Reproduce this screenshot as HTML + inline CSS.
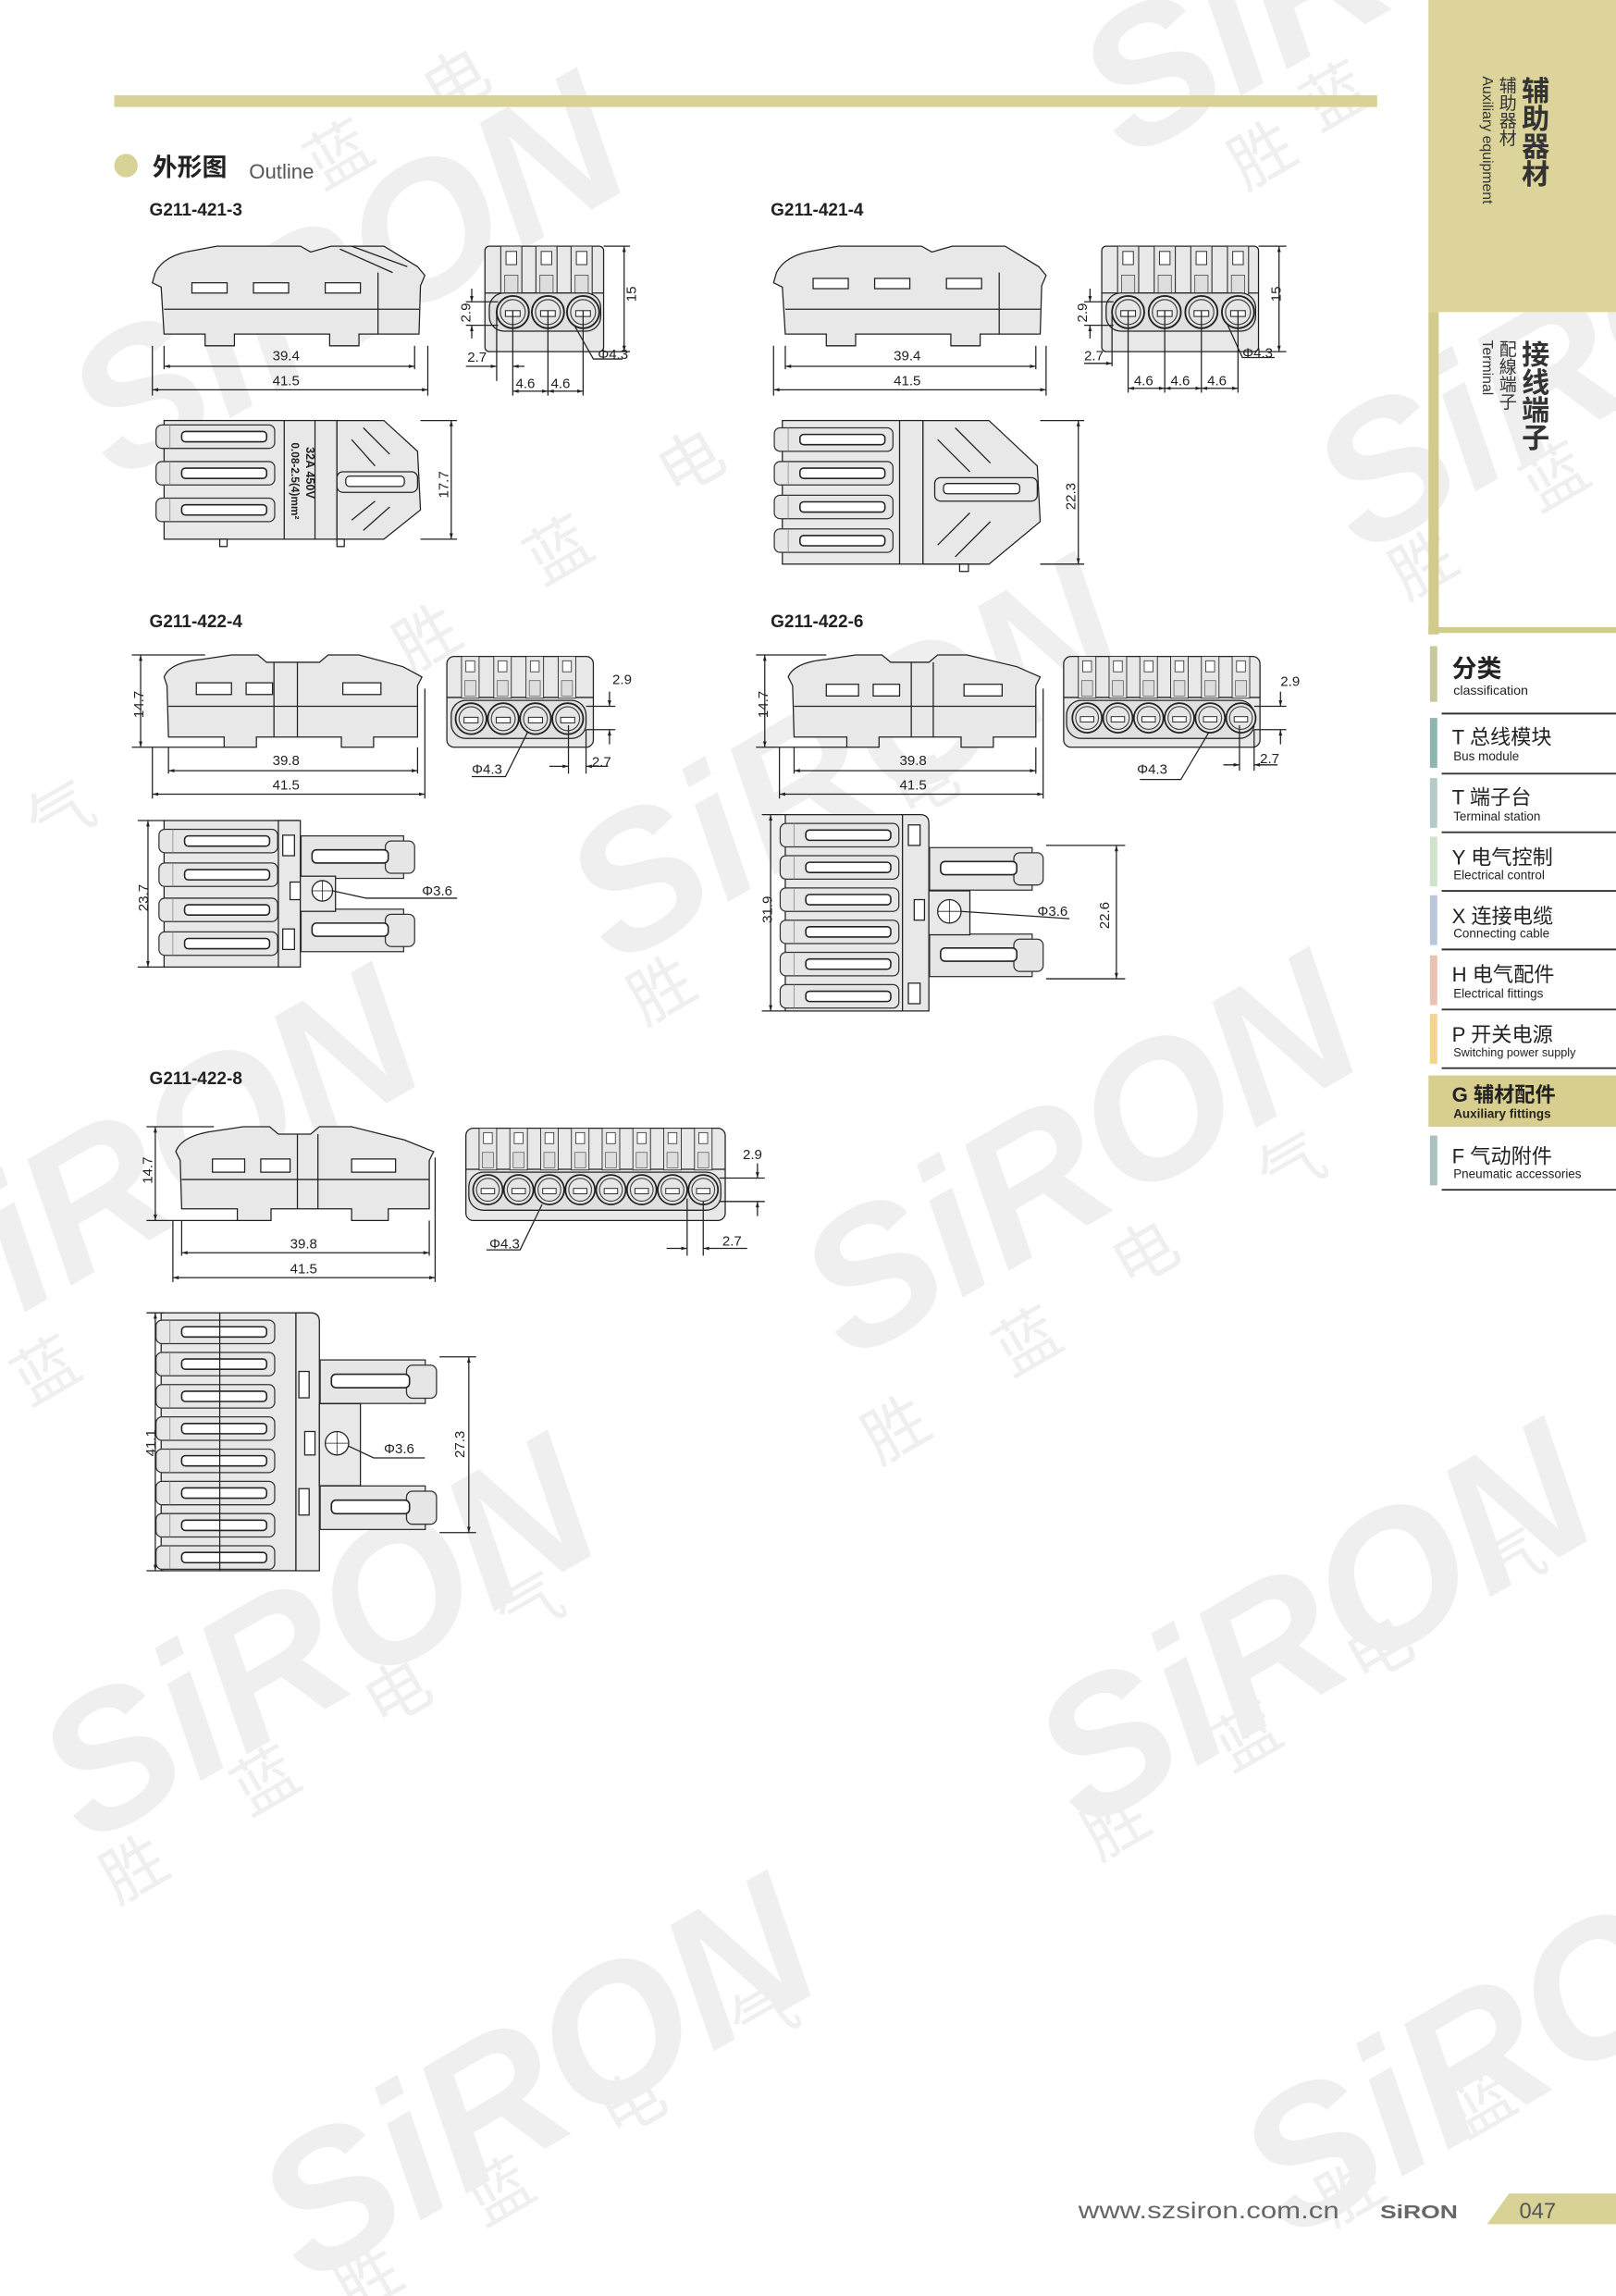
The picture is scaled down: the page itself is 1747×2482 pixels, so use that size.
<!DOCTYPE html>
<html><head><meta charset="utf-8"><style>
html,body{margin:0;padding:0;background:#fff;}
svg{display:block;}
text{font-family:"Liberation Sans","Noto Sans CJK SC",sans-serif;}
</style></head><body>
<svg width="1747" height="2482" viewBox="0 0 1103 1567" preserveAspectRatio="none" xmlns="http://www.w3.org/2000/svg">
<defs>
<marker id="a" viewBox="0 0 10 10" refX="10" refY="5" markerWidth="7" markerHeight="5" orient="auto-start-reverse"><path d="M0,2 L10,5 L0,8 z" fill="#222"/></marker>
<symbol id="row" viewBox="0 0 82 20"><rect x="0.5" y="2" width="81" height="16" rx="4" fill="#e6e6e6" stroke="#333" stroke-width="0.8"/><rect x="18" y="6.5" width="58" height="7" rx="2.5" fill="#fff" stroke="#222" stroke-width="1"/><line x1="10" y1="2" x2="10" y2="18" stroke="#888" stroke-width="0.5"/></symbol>
<symbol id="cir" viewBox="0 0 24 24"><circle cx="12" cy="12" r="11" fill="#e6e6e6" stroke="#222" stroke-width="1.2"/><circle cx="12" cy="12" r="8.5" fill="none" stroke="#444" stroke-width="0.8"/><rect x="7" y="11" width="10" height="4" fill="#fff" stroke="#333" stroke-width="0.7"/></symbol>
<symbol id="fin" viewBox="0 0 20 40"><rect x="2" y="0" width="16" height="38" fill="#e6e6e6" stroke="#333" stroke-width="0.8"/><rect x="6" y="4" width="8" height="10" fill="#fff" stroke="#333" stroke-width="0.7"/><rect x="5" y="22" width="10" height="14" fill="#ddd" stroke="#555" stroke-width="0.6"/></symbol>
<symbol id="tab" viewBox="0 0 80 30"><rect x="0.5" y="0.5" width="70" height="29" fill="#e6e6e6" stroke="#333" stroke-width="0.8"/><rect x="58" y="4" width="20" height="22" rx="4" fill="#e6e6e6" stroke="#333" stroke-width="0.8"/><rect x="8" y="10" width="52" height="9" rx="3" fill="#fff" stroke="#222" stroke-width="1"/></symbol>
</defs>

<!-- watermarks -->
<g fill="#efefef" font-weight="bold" font-style="italic" font-family="Liberation Sans,sans-serif">
<text x="80" y="330" font-size="130" transform="rotate(-30 80 330)">SiRON</text>
<text x="420" y="660" font-size="130" transform="rotate(-30 420 660)">SiRON</text>
<text x="-60" y="940" font-size="130" transform="rotate(-30 -60 940)">SiRON</text>
<text x="580" y="930" font-size="130" transform="rotate(-30 580 930)">SiRON</text>
<text x="60" y="1260" font-size="130" transform="rotate(-30 60 1260)">SiRON</text>
<text x="740" y="1250" font-size="130" transform="rotate(-30 740 1250)">SiRON</text>
<text x="210" y="1560" font-size="130" transform="rotate(-30 210 1560)">SiRON</text>
<text x="880" y="1530" font-size="130" transform="rotate(-30 880 1530)">SiRON</text>
<text x="770" y="110" font-size="130" transform="rotate(-30 770 110)">SiRON</text>
<text x="930" y="380" font-size="130" transform="rotate(-30 930 380)">SiRON</text>
</g>
<g fill="#efefef" font-size="44" font-family="Noto Sans CJK SC,sans-serif">
<text x="300" y="80" transform="rotate(-30 300 80)">电</text><text x="220" y="130" transform="rotate(-30 220 130)">蓝</text>
<text x="460" y="340" transform="rotate(-30 460 340)">电</text><text x="370" y="400" transform="rotate(-30 370 400)">蓝</text><text x="280" y="460" transform="rotate(-30 280 460)">胜</text>
<text x="30" y="580" transform="rotate(-30 30 580)">气</text>
<text x="620" y="560" transform="rotate(-30 620 560)">电</text><text x="440" y="700" transform="rotate(-30 440 700)">胜</text>
<text x="870" y="820" transform="rotate(-30 870 820)">气</text><text x="770" y="880" transform="rotate(-30 770 880)">电</text><text x="690" y="940" transform="rotate(-30 690 940)">蓝</text><text x="600" y="1000" transform="rotate(-30 600 1000)">胜</text>
<text x="20" y="960" transform="rotate(-30 20 960)">蓝</text>
<text x="350" y="1120" transform="rotate(-30 350 1120)">气</text><text x="260" y="1180" transform="rotate(-30 260 1180)">电</text><text x="170" y="1240" transform="rotate(-30 170 1240)">蓝</text><text x="80" y="1300" transform="rotate(-30 80 1300)">胜</text>
<text x="1020" y="1090" transform="rotate(-30 1020 1090)">气</text><text x="930" y="1150" transform="rotate(-30 930 1150)">电</text><text x="840" y="1210" transform="rotate(-30 840 1210)">蓝</text><text x="750" y="1270" transform="rotate(-30 750 1270)">胜</text>
<text x="510" y="1400" transform="rotate(-30 510 1400)">气</text><text x="420" y="1460" transform="rotate(-30 420 1460)">电</text><text x="330" y="1520" transform="rotate(-30 330 1520)">蓝</text><text x="240" y="1580" transform="rotate(-30 240 1580)">胜</text>
<text x="1000" y="1460" transform="rotate(-30 1000 1460)">蓝</text><text x="910" y="1520" transform="rotate(-30 910 1520)">胜</text>
<text x="1050" y="350" transform="rotate(-30 1050 350)">蓝</text><text x="960" y="410" transform="rotate(-30 960 410)">胜</text>
<text x="850" y="130" transform="rotate(-30 850 130)">胜</text><text x="900" y="90" transform="rotate(-30 900 90)">蓝</text>
</g>

<!-- header bar -->
<rect x="78" y="65" width="862" height="8" fill="#d9d297"/>
<circle cx="86" cy="113" r="8" fill="#d9d297"/>
<text x="104" y="120" font-size="17" font-weight="bold" fill="#222">外形图</text>
<text x="170" y="122" font-size="14" fill="#555">Outline</text>

<!-- sidebar -->
<rect x="975" y="0" width="128" height="213" fill="#dcd49a"/>
<rect x="975" y="213" width="7" height="220" fill="#d3cb8c"/>
<rect x="975" y="428" width="128" height="4" fill="#d3cb8c"/>
<g fill="#333">
<text x="1046" y="52" font-size="19" font-weight="bold" style="writing-mode:vertical-rl" font-family="Noto Sans CJK SC,sans-serif">辅助器材</text>
<text x="1028" y="52" font-size="12" style="writing-mode:vertical-rl" font-family="Noto Sans CJK SC,sans-serif">辅助器材</text>
<text x="1012" y="52" font-size="10" transform="rotate(90 1012 52)">Auxiliary equipment</text>
<text x="1046" y="232" font-size="19" font-weight="bold" style="writing-mode:vertical-rl" font-family="Noto Sans CJK SC,sans-serif">接线端子</text>
<text x="1028" y="232" font-size="12" style="writing-mode:vertical-rl" font-family="Noto Sans CJK SC,sans-serif">配線端子</text>
<text x="1012" y="232" font-size="10" transform="rotate(90 1012 232)">Terminal</text>
</g>
<g font-family="Liberation Sans,Noto Sans CJK SC,sans-serif" fill="#222">
<rect x="976" y="441" width="5" height="38" fill="#c9c79d"/>
<text x="991" y="462" font-size="17" font-weight="bold">分类</text><text x="992" y="474" font-size="9">classification</text>
<line x1="984" y1="487" x2="1103" y2="487" stroke="#333" stroke-width="1.2"/>
<rect x="976" y="490" width="5" height="34" fill="#8fb5b3"/><text x="991" y="508" font-size="14">T 总线模块</text><text x="992" y="519" font-size="8.5">Bus module</text>
<line x1="984" y1="528" x2="1103" y2="528" stroke="#333" stroke-width="1.2"/>
<rect x="976" y="531" width="5" height="34" fill="#b5cbc9"/><text x="991" y="549" font-size="14">T 端子台</text><text x="992" y="560" font-size="8.5">Terminal station</text>
<line x1="984" y1="568" x2="1103" y2="568" stroke="#333" stroke-width="1.2"/>
<rect x="976" y="571" width="5" height="34" fill="#cfe3c9"/><text x="991" y="590" font-size="14">Y 电气控制</text><text x="992" y="600" font-size="8.5">Electrical control</text>
<line x1="984" y1="608" x2="1103" y2="608" stroke="#333" stroke-width="1.2"/>
<rect x="976" y="611" width="5" height="34" fill="#bcc6dc"/><text x="991" y="630" font-size="14">X 连接电缆</text><text x="992" y="640" font-size="8.5">Connecting cable</text>
<line x1="984" y1="648" x2="1103" y2="648" stroke="#333" stroke-width="1.2"/>
<rect x="976" y="652" width="5" height="34" fill="#eac3b5"/><text x="991" y="670" font-size="14">H 电气配件</text><text x="992" y="681" font-size="8.5">Electrical fittings</text>
<line x1="984" y1="689" x2="1103" y2="689" stroke="#333" stroke-width="1.2"/>
<rect x="976" y="692" width="5" height="34" fill="#f3d58c"/><text x="991" y="711" font-size="14">P 开关电源</text><text x="992" y="721" font-size="8">Switching power supply</text>
<line x1="984" y1="729" x2="1103" y2="729" stroke="#333" stroke-width="1.2"/>
<rect x="975" y="734" width="128" height="35" fill="#d8cf8f"/><text x="991" y="752" font-size="14" font-weight="bold">G 辅材配件</text><text x="992" y="763" font-size="8.5" font-weight="bold">Auxiliary fittings</text>
<rect x="976" y="775" width="5" height="34" fill="#a9c1bf"/><text x="991" y="794" font-size="14">F 气动附件</text><text x="992" y="804" font-size="8.5">Pneumatic accessories</text>
<line x1="984" y1="812" x2="1103" y2="812" stroke="#333" stroke-width="1.2"/>
</g>

<!-- footer -->
<text x="736" y="1514" font-size="16" fill="#666" textLength="178" lengthAdjust="spacingAndGlyphs">www.szsiron.com.cn</text>
<text x="942" y="1514" font-size="13" font-weight="bold" fill="#666" textLength="53" lengthAdjust="spacingAndGlyphs">SiRON</text>
<path d="M1030,1497 L1103,1497 L1103,1518 L1015,1518 z" fill="#d9d297"/>
<text x="1037" y="1514" font-size="15" fill="#555">047</text>

<!-- labels -->
<g font-size="12" font-weight="bold" fill="#222">
<text x="102" y="147">G211-421-3</text><text x="526" y="147">G211-421-4</text>
<text x="102" y="428">G211-422-4</text><text x="526" y="428">G211-422-6</text>
<text x="102" y="740">G211-422-8</text>
</g>

<g stroke="#222" stroke-width="0.8" fill="none">
<!-- ===== G211-421-3 side ===== -->
<path d="M106,186 Q112,174 132,171 L148,168 L205,168 L212,172 L226,168 L262,168 L285,182 L290,188 L287,195 L286,228 L245,228 L245,236 L225,236 L225,228 L160,228 L160,236 L140,236 L140,228 L112,228 L110,196 L104,193 z" fill="#e8e8e8"/>
<line x1="112" y1="211" x2="286" y2="211"/><line x1="258" y1="186" x2="258" y2="228"/>
<rect x="131" y="193" width="24" height="7" fill="#fff"/><rect x="173" y="193" width="24" height="7" fill="#fff"/><rect x="222" y="193" width="24" height="7" fill="#fff"/>
<path d="M232,170 L268,186 M240,168 L278,182" />
<line x1="112" y1="250" x2="283" y2="250" marker-start="url(#a)" marker-end="url(#a)"/>
<line x1="104" y1="266" x2="292" y2="266" marker-start="url(#a)" marker-end="url(#a)"/>
<line x1="112" y1="236" x2="112" y2="252"/><line x1="283" y1="236" x2="283" y2="252"/>
<line x1="104" y1="236" x2="104" y2="270"/><line x1="292" y1="236" x2="292" y2="270"/>

<!-- 421-3 end -->
<rect x="331" y="168" width="81" height="72" rx="3" fill="#e8e8e8"/>
<line x1="331" y1="200" x2="412" y2="200"/>
<use href="#fin" x="339" y="168" width="20" height="36"/><use href="#fin" x="363" y="168" width="20" height="36"/><use href="#fin" x="387" y="168" width="20" height="36"/>
<rect x="334" y="200" width="76" height="26" rx="10" fill="#e0e0e0"/>
<use href="#cir" x="338" y="201" width="24" height="24"/><use href="#cir" x="362" y="201" width="24" height="24"/><use href="#cir" x="386" y="201" width="24" height="24"/>
<line x1="412" y1="168" x2="430" y2="168"/><line x1="412" y1="240" x2="430" y2="240"/>
<line x1="426" y1="168" x2="426" y2="240" marker-start="url(#a)" marker-end="url(#a)"/>
<line x1="318" y1="206" x2="340" y2="206"/><line x1="318" y1="222" x2="340" y2="222"/>
<line x1="322" y1="197" x2="322" y2="206" marker-end="url(#a)"/><line x1="322" y1="231" x2="322" y2="222" marker-end="url(#a)"/>
<line x1="339" y1="212" x2="339" y2="260"/><line x1="350" y1="212" x2="350" y2="270"/><line x1="374" y1="212" x2="374" y2="270"/><line x1="398" y1="212" x2="398" y2="270"/>
<line x1="318" y1="250" x2="339" y2="250" marker-end="url(#a)"/><line x1="358" y1="250" x2="350" y2="250" marker-end="url(#a)"/>
<line x1="350" y1="267" x2="374" y2="267" marker-start="url(#a)" marker-end="url(#a)"/><line x1="374" y1="267" x2="398" y2="267" marker-start="url(#a)" marker-end="url(#a)"/>
<path d="M392,222 L405,245 L425,245"/>

<!-- 421-3 top -->
<rect x="112" y="287" width="118" height="81" fill="#e8e8e8"/>
<use href="#row" x="106" y="288" width="82" height="20"/><use href="#row" x="106" y="313" width="82" height="20"/><use href="#row" x="106" y="338" width="82" height="20"/>
<line x1="194" y1="287" x2="194" y2="368"/><line x1="215" y1="287" x2="215" y2="368"/>
<path d="M230,287 L262,287 L285,308 L287,348 L262,368 L230,368 z" fill="#e8e8e8"/>
<rect x="230" y="322" width="55" height="14" rx="4" fill="#e8e8e8"/><rect x="236" y="325" width="40" height="7" rx="2.5" fill="#fff"/>
<path d="M240,300 L256,318 M248,292 L266,310 M240,355 L256,342 M248,362 L266,346"/>
<line x1="287" y1="287" x2="312" y2="287"/><line x1="287" y1="368" x2="312" y2="368"/>
<line x1="308" y1="287" x2="308" y2="368" marker-start="url(#a)" marker-end="url(#a)"/>
<rect x="150" y="368" width="5" height="5"/><rect x="230" y="368" width="5" height="5"/>

<!-- ===== G211-421-4 side ===== -->
<path d="M530,186 Q536,174 556,171 L572,168 L629,168 L636,172 L650,168 L686,168 L709,182 L714,188 L711,195 L710,228 L669,228 L669,236 L649,236 L649,228 L584,228 L584,236 L564,236 L564,228 L536,228 L534,196 L528,193 z" fill="#e8e8e8"/>
<line x1="536" y1="211" x2="710" y2="211"/><line x1="682" y1="186" x2="682" y2="228"/>
<rect x="555" y="190" width="24" height="7" fill="#fff"/><rect x="597" y="190" width="24" height="7" fill="#fff"/><rect x="646" y="190" width="24" height="7" fill="#fff"/>
<line x1="536" y1="250" x2="707" y2="250" marker-start="url(#a)" marker-end="url(#a)"/>
<line x1="528" y1="266" x2="714" y2="266" marker-start="url(#a)" marker-end="url(#a)"/>
<line x1="536" y1="236" x2="536" y2="252"/><line x1="707" y1="236" x2="707" y2="252"/>
<line x1="528" y1="236" x2="528" y2="270"/><line x1="714" y1="236" x2="714" y2="270"/>

<!-- 421-4 end -->
<rect x="752" y="168" width="107" height="72" rx="3" fill="#e8e8e8"/>
<line x1="752" y1="200" x2="859" y2="200"/>
<use href="#fin" x="760" y="168" width="20" height="36"/><use href="#fin" x="785" y="168" width="20" height="36"/><use href="#fin" x="810" y="168" width="20" height="36"/><use href="#fin" x="835" y="168" width="20" height="36"/>
<rect x="755" y="200" width="102" height="26" rx="10" fill="#e0e0e0"/>
<use href="#cir" x="758" y="201" width="24" height="24"/><use href="#cir" x="783" y="201" width="24" height="24"/><use href="#cir" x="808" y="201" width="24" height="24"/><use href="#cir" x="833" y="201" width="24" height="24"/>
<line x1="859" y1="168" x2="878" y2="168"/><line x1="859" y1="240" x2="878" y2="240"/>
<line x1="873" y1="168" x2="873" y2="240" marker-start="url(#a)" marker-end="url(#a)"/>
<line x1="740" y1="206" x2="760" y2="206"/><line x1="740" y1="222" x2="760" y2="222"/>
<line x1="744" y1="197" x2="744" y2="206" marker-end="url(#a)"/><line x1="744" y1="231" x2="744" y2="222" marker-end="url(#a)"/>
<line x1="759" y1="212" x2="759" y2="250"/><line x1="770" y1="212" x2="770" y2="268"/><line x1="795" y1="212" x2="795" y2="268"/><line x1="820" y1="212" x2="820" y2="268"/><line x1="845" y1="212" x2="845" y2="268"/>
<line x1="740" y1="248" x2="759" y2="248" marker-end="url(#a)"/>
<line x1="770" y1="265" x2="795" y2="265" marker-start="url(#a)" marker-end="url(#a)"/><line x1="795" y1="265" x2="820" y2="265" marker-start="url(#a)" marker-end="url(#a)"/><line x1="820" y1="265" x2="845" y2="265" marker-start="url(#a)" marker-end="url(#a)"/>
<path d="M838,222 L848,244 L870,244"/>

<!-- 421-4 top -->
<rect x="534" y="287" width="96" height="98" fill="#e8e8e8"/>
<use href="#row" x="528" y="290" width="82" height="20"/><use href="#row" x="528" y="313" width="82" height="20"/><use href="#row" x="528" y="336" width="82" height="20"/><use href="#row" x="528" y="359" width="82" height="20"/>
<line x1="614" y1="287" x2="614" y2="385"/>
<path d="M630,287 L675,287 L708,318 L710,356 L675,385 L630,385 z" fill="#e8e8e8"/>
<rect x="638" y="326" width="70" height="16" rx="4" fill="#e8e8e8"/><rect x="644" y="330" width="52" height="7" rx="2.5" fill="#fff"/>
<path d="M640,300 L662,322 M652,292 L676,316 M640,372 L662,350 M652,380 L676,356"/>
<line x1="710" y1="287" x2="740" y2="287"/><line x1="710" y1="385" x2="740" y2="385"/>
<line x1="736" y1="287" x2="736" y2="385" marker-start="url(#a)" marker-end="url(#a)"/>
<rect x="655" y="385" width="6" height="5"/>

<!-- ===== G211-422-4 side ===== -->
<path d="M112,462 Q116,452 138,450 L158,447 L176,447 L182,452 L218,452 L224,447 L245,447 L275,455 L288,462 L285,468 L285,503 L255,503 L255,510 L233,510 L233,503 L175,503 L175,510 L153,510 L153,503 L115,503 L114,468 z" fill="#e8e8e8"/>
<line x1="115" y1="482" x2="285" y2="482"/><line x1="187" y1="452" x2="187" y2="503"/><line x1="203" y1="452" x2="203" y2="503"/>
<rect x="134" y="466" width="24" height="8" fill="#fff"/><rect x="168" y="466" width="18" height="8" fill="#fff"/><rect x="234" y="466" width="26" height="8" fill="#fff"/>
<line x1="90" y1="447" x2="140" y2="447"/><line x1="90" y1="510" x2="153" y2="510"/>
<line x1="96" y1="447" x2="96" y2="510" marker-start="url(#a)" marker-end="url(#a)"/>
<line x1="115" y1="526" x2="285" y2="526" marker-start="url(#a)" marker-end="url(#a)"/>
<line x1="104" y1="542" x2="290" y2="542" marker-start="url(#a)" marker-end="url(#a)"/>
<line x1="115" y1="510" x2="115" y2="528"/><line x1="285" y1="510" x2="285" y2="528"/>
<line x1="104" y1="510" x2="104" y2="545"/><line x1="290" y1="470" x2="290" y2="545"/>

<!-- 422-4 end -->
<rect x="305" y="448" width="100" height="62" rx="5" fill="#e8e8e8"/>
<line x1="305" y1="476" x2="405" y2="476"/>
<use href="#fin" x="312" y="448" width="18" height="30"/><use href="#fin" x="334" y="448" width="18" height="30"/><use href="#fin" x="356" y="448" width="18" height="30"/><use href="#fin" x="378" y="448" width="18" height="30"/>
<rect x="308" y="478" width="92" height="26" rx="10" fill="#e0e0e0"/>
<use href="#cir" x="310" y="479" width="23" height="23"/><use href="#cir" x="332" y="479" width="23" height="23"/><use href="#cir" x="354" y="479" width="23" height="23"/><use href="#cir" x="376" y="479" width="23" height="23"/>
<line x1="400" y1="482" x2="420" y2="482"/><line x1="400" y1="498" x2="420" y2="498"/>
<line x1="416" y1="472" x2="416" y2="482" marker-end="url(#a)"/><line x1="416" y1="508" x2="416" y2="498" marker-end="url(#a)"/>
<line x1="388" y1="495" x2="388" y2="528"/><line x1="400" y1="498" x2="400" y2="528"/>
<line x1="375" y1="523" x2="388" y2="523" marker-end="url(#a)"/><line x1="415" y1="523" x2="400" y2="523" marker-end="url(#a)"/>
<path d="M360,500 L345,530 L322,530"/>

<!-- 422-4 top -->
<rect x="112" y="560" width="92" height="100" fill="#e8e8e8"/>
<use href="#row" x="108" y="564" width="82" height="20"/><use href="#row" x="108" y="587" width="82" height="20"/><use href="#row" x="108" y="611" width="82" height="20"/><use href="#row" x="108" y="634" width="82" height="20"/>
<rect x="190" y="560" width="15" height="100" fill="#e8e8e8"/>
<rect x="193" y="570" width="8" height="14" fill="#fff"/><rect x="193" y="634" width="8" height="14" fill="#fff"/><rect x="198" y="602" width="7" height="12" fill="#fff"/>
<use href="#tab" x="205" y="570" width="80" height="30"/><use href="#tab" x="205" y="620" width="80" height="30"/>
<rect x="205" y="598" width="24" height="24" fill="#e8e8e8"/>
<circle cx="220" cy="608" r="7" fill="#fff"/><path d="M213,608 h14 M220,601 v14" stroke-width="0.5"/>
<path d="M227,608 L250,613 L312,613"/>
<line x1="94" y1="560" x2="112" y2="560"/><line x1="94" y1="660" x2="112" y2="660"/>
<line x1="101" y1="560" x2="101" y2="660" marker-start="url(#a)" marker-end="url(#a)"/>

<!-- ===== G211-422-6 side ===== -->
<path d="M538,462 Q542,452 564,450 L584,447 L602,447 L608,452 L634,452 L640,447 L660,447 L694,455 L710,462 L707,468 L707,503 L678,503 L678,510 L656,510 L656,503 L600,503 L600,510 L578,510 L578,503 L542,503 L541,468 z" fill="#e8e8e8"/>
<line x1="542" y1="482" x2="707" y2="482"/><line x1="622" y1="452" x2="622" y2="503"/><line x1="637" y1="452" x2="637" y2="503"/>
<rect x="564" y="467" width="22" height="8" fill="#fff"/><rect x="596" y="467" width="18" height="8" fill="#fff"/><rect x="658" y="467" width="26" height="8" fill="#fff"/>
<line x1="516" y1="447" x2="564" y2="447"/><line x1="516" y1="510" x2="578" y2="510"/>
<line x1="522" y1="447" x2="522" y2="510" marker-start="url(#a)" marker-end="url(#a)"/>
<line x1="542" y1="526" x2="707" y2="526" marker-start="url(#a)" marker-end="url(#a)"/>
<line x1="532" y1="542" x2="712" y2="542" marker-start="url(#a)" marker-end="url(#a)"/>
<line x1="542" y1="510" x2="542" y2="528"/><line x1="707" y1="510" x2="707" y2="528"/>
<line x1="532" y1="510" x2="532" y2="545"/><line x1="712" y1="470" x2="712" y2="545"/>

<!-- 422-6 end -->
<rect x="726" y="448" width="134" height="62" rx="5" fill="#e8e8e8"/>
<line x1="726" y1="476" x2="860" y2="476"/>
<use href="#fin" x="733" y="448" width="18" height="30"/><use href="#fin" x="754" y="448" width="18" height="30"/><use href="#fin" x="775" y="448" width="18" height="30"/><use href="#fin" x="796" y="448" width="18" height="30"/><use href="#fin" x="817" y="448" width="18" height="30"/><use href="#fin" x="838" y="448" width="18" height="30"/>
<rect x="728" y="478" width="128" height="26" rx="10" fill="#e0e0e0"/>
<use href="#cir" x="731" y="479" width="22" height="22"/><use href="#cir" x="752" y="479" width="22" height="22"/><use href="#cir" x="773" y="479" width="22" height="22"/><use href="#cir" x="794" y="479" width="22" height="22"/><use href="#cir" x="815" y="479" width="22" height="22"/><use href="#cir" x="836" y="479" width="22" height="22"/>
<line x1="856" y1="482" x2="878" y2="482"/><line x1="856" y1="498" x2="878" y2="498"/>
<line x1="874" y1="472" x2="874" y2="482" marker-end="url(#a)"/><line x1="874" y1="508" x2="874" y2="498" marker-end="url(#a)"/>
<line x1="846" y1="495" x2="846" y2="526"/><line x1="856" y1="498" x2="856" y2="526"/>
<line x1="835" y1="522" x2="846" y2="522" marker-end="url(#a)"/><line x1="872" y1="522" x2="856" y2="522" marker-end="url(#a)"/>
<path d="M825,500 L806,532 L778,532"/>

<!-- 422-6 top -->
<rect x="536" y="556" width="80" height="134" fill="#e8e8e8"/>
<use href="#row" x="532" y="560" width="82" height="20"/><use href="#row" x="532" y="582" width="82" height="20"/><use href="#row" x="532" y="604" width="82" height="20"/><use href="#row" x="532" y="626" width="82" height="20"/><use href="#row" x="532" y="648" width="82" height="20"/><use href="#row" x="532" y="670" width="82" height="20"/>
<path d="M616,556 L628,556 Q634,556 634,562 L634,690 L616,690 z" fill="#e8e8e8"/>
<rect x="620" y="563" width="8" height="14" fill="#fff"/><rect x="620" y="671" width="8" height="14" fill="#fff"/><rect x="624" y="614" width="7" height="14" fill="#fff"/>
<use href="#tab" x="634" y="577" width="80" height="32"/><use href="#tab" x="634" y="636" width="80" height="32"/>
<rect x="634" y="608" width="28" height="30" fill="#e8e8e8"/>
<circle cx="648" cy="622" r="8" fill="#fff"/><path d="M640,622 h16 M648,614 v16" stroke-width="0.5"/>
<path d="M656,622 L730,627"/>
<line x1="714" y1="577" x2="768" y2="577"/><line x1="714" y1="668" x2="768" y2="668"/>
<line x1="762" y1="577" x2="762" y2="668" marker-start="url(#a)" marker-end="url(#a)"/>
<line x1="520" y1="556" x2="536" y2="556"/><line x1="520" y1="690" x2="536" y2="690"/>
<line x1="526" y1="556" x2="526" y2="690" marker-start="url(#a)" marker-end="url(#a)"/>

<!-- ===== G211-422-8 side ===== -->
<path d="M120,786 Q124,775 146,772 L166,769 L184,769 L190,774 L212,774 L218,769 L240,769 L276,778 L296,786 L293,792 L293,825 L265,825 L265,833 L240,833 L240,825 L185,825 L185,833 L162,833 L162,825 L124,825 L123,792 z" fill="#e8e8e8"/>
<line x1="124" y1="805" x2="293" y2="805"/><line x1="203" y1="774" x2="203" y2="825"/><line x1="217" y1="774" x2="217" y2="825"/>
<rect x="145" y="791" width="22" height="9" fill="#fff"/><rect x="178" y="791" width="20" height="9" fill="#fff"/><rect x="240" y="791" width="30" height="9" fill="#fff"/>
<line x1="100" y1="769" x2="146" y2="769"/><line x1="100" y1="833" x2="162" y2="833"/>
<line x1="106" y1="769" x2="106" y2="833" marker-start="url(#a)" marker-end="url(#a)"/>
<line x1="124" y1="855" x2="293" y2="855" marker-start="url(#a)" marker-end="url(#a)"/>
<line x1="118" y1="872" x2="297" y2="872" marker-start="url(#a)" marker-end="url(#a)"/>
<line x1="124" y1="833" x2="124" y2="857"/><line x1="293" y1="833" x2="293" y2="857"/>
<line x1="118" y1="833" x2="118" y2="875"/><line x1="297" y1="790" x2="297" y2="875"/>

<!-- 422-8 end -->
<rect x="318" y="770" width="177" height="63" rx="5" fill="#e8e8e8"/>
<line x1="318" y1="798" x2="495" y2="798"/>
<use href="#fin" x="324" y="770" width="18" height="30"/><use href="#fin" x="345" y="770" width="18" height="30"/><use href="#fin" x="366" y="770" width="18" height="30"/><use href="#fin" x="387" y="770" width="18" height="30"/><use href="#fin" x="408" y="770" width="18" height="30"/><use href="#fin" x="429" y="770" width="18" height="30"/><use href="#fin" x="450" y="770" width="18" height="30"/><use href="#fin" x="471" y="770" width="18" height="30"/>
<rect x="320" y="800" width="172" height="26" rx="10" fill="#e0e0e0"/>
<use href="#cir" x="322" y="801" width="22" height="22"/><use href="#cir" x="343" y="801" width="22" height="22"/><use href="#cir" x="364" y="801" width="22" height="22"/><use href="#cir" x="385" y="801" width="22" height="22"/><use href="#cir" x="406" y="801" width="22" height="22"/><use href="#cir" x="427" y="801" width="22" height="22"/><use href="#cir" x="448" y="801" width="22" height="22"/><use href="#cir" x="469" y="801" width="22" height="22"/>
<line x1="491" y1="804" x2="522" y2="804"/><line x1="491" y1="820" x2="522" y2="820"/>
<line x1="517" y1="794" x2="517" y2="804" marker-end="url(#a)"/><line x1="517" y1="830" x2="517" y2="820" marker-end="url(#a)"/>
<line x1="469" y1="818" x2="469" y2="857"/><line x1="480" y1="820" x2="480" y2="857"/>
<line x1="455" y1="852" x2="469" y2="852" marker-end="url(#a)"/><line x1="510" y1="852" x2="480" y2="852" marker-end="url(#a)"/>
<path d="M370,822 L355,853 L332,853"/>

<!-- 422-8 top -->
<rect x="110" y="896" width="92" height="176" fill="#e8e8e8"/>
<use href="#row" x="106" y="899" width="82" height="20"/><use href="#row" x="106" y="921" width="82" height="20"/><use href="#row" x="106" y="943" width="82" height="20"/><use href="#row" x="106" y="965" width="82" height="20"/><use href="#row" x="106" y="987" width="82" height="20"/><use href="#row" x="106" y="1009" width="82" height="20"/><use href="#row" x="106" y="1031" width="82" height="20"/><use href="#row" x="106" y="1053" width="82" height="20"/>
<line x1="150" y1="896" x2="150" y2="1072"/>
<path d="M202,896 L212,896 Q218,896 218,902 L218,1072 L202,1072 z" fill="#e8e8e8"/>
<rect x="204" y="936" width="7" height="18" fill="#fff"/><rect x="204" y="1016" width="7" height="18" fill="#fff"/><rect x="208" y="977" width="7" height="16" fill="#fff"/>
<use href="#tab" x="218" y="926" width="82" height="34"/><use href="#tab" x="218" y="1012" width="82" height="34"/>
<rect x="218" y="958" width="28" height="56" fill="#e8e8e8"/>
<circle cx="230" cy="985" r="8" fill="#fff"/><path d="M222,985 h16 M230,977 v16" stroke-width="0.5"/>
<path d="M238,987 L255,995 L290,995"/>
<line x1="300" y1="926" x2="325" y2="926"/><line x1="300" y1="1046" x2="325" y2="1046"/>
<line x1="320" y1="926" x2="320" y2="1046" marker-start="url(#a)" marker-end="url(#a)"/>
<line x1="100" y1="896" x2="112" y2="896"/><line x1="100" y1="1072" x2="112" y2="1072"/>
<line x1="106" y1="896" x2="106" y2="1072" marker-start="url(#a)" marker-end="url(#a)"/>
</g>

<!-- dimension texts -->
<g font-size="9.5" fill="#222">
<text x="186" y="246">39.4</text><text x="186" y="263">41.5</text>
<text x="319" y="247">2.7</text><text x="352" y="265">4.6</text><text x="376" y="265">4.6</text><text x="408" y="245">Φ4.3</text>
<text x="434" y="206" transform="rotate(-90 434 206)">15</text>
<text x="321" y="220" transform="rotate(-90 321 220)">2.9</text>
<text x="306" y="340" transform="rotate(-90 306 340)">17.7</text>
<text x="209" y="305" font-size="8" font-weight="bold" transform="rotate(90 209 305)">32A 450V</text>
<text x="199" y="302" font-size="7.5" font-weight="bold" transform="rotate(90 199 302)">0.08-2.5(4)mm²</text>

<text x="610" y="246">39.4</text><text x="610" y="263">41.5</text>
<text x="740" y="246">2.7</text><text x="774" y="263">4.6</text><text x="799" y="263">4.6</text><text x="824" y="263">4.6</text><text x="848" y="244">Φ4.3</text>
<text x="874" y="206" transform="rotate(-90 874 206)">15</text>
<text x="742" y="220" transform="rotate(-90 742 220)">2.9</text>
<text x="734" y="348" transform="rotate(-90 734 348)">22.3</text>

<text x="98" y="490" transform="rotate(-90 98 490)">14.7</text>
<text x="186" y="522">39.8</text><text x="186" y="539">41.5</text>
<text x="418" y="467">2.9</text><text x="404" y="523">2.7</text><text x="322" y="528">Φ4.3</text>
<text x="101" y="622" transform="rotate(-90 101 622)">23.7</text>
<text x="288" y="611">Φ3.6</text>

<text x="524" y="490" transform="rotate(-90 524 490)">14.7</text>
<text x="614" y="522">39.8</text><text x="614" y="539">41.5</text>
<text x="874" y="468">2.9</text><text x="860" y="521">2.7</text><text x="776" y="528">Φ4.3</text>
<text x="527" y="630" transform="rotate(-90 527 630)">31.9</text>
<text x="708" y="625">Φ3.6</text>
<text x="757" y="634" transform="rotate(-90 757 634)">22.6</text>

<text x="104" y="808" transform="rotate(-90 104 808)">14.7</text>
<text x="198" y="852">39.8</text><text x="198" y="869">41.5</text>
<text x="507" y="791">2.9</text><text x="493" y="850">2.7</text><text x="334" y="852">Φ4.3</text>
<text x="106" y="994" transform="rotate(-90 106 994)">41.1</text>
<text x="262" y="992">Φ3.6</text>
<text x="317" y="995" transform="rotate(-90 317 995)">27.3</text>
</g>
</svg>
</body></html>
